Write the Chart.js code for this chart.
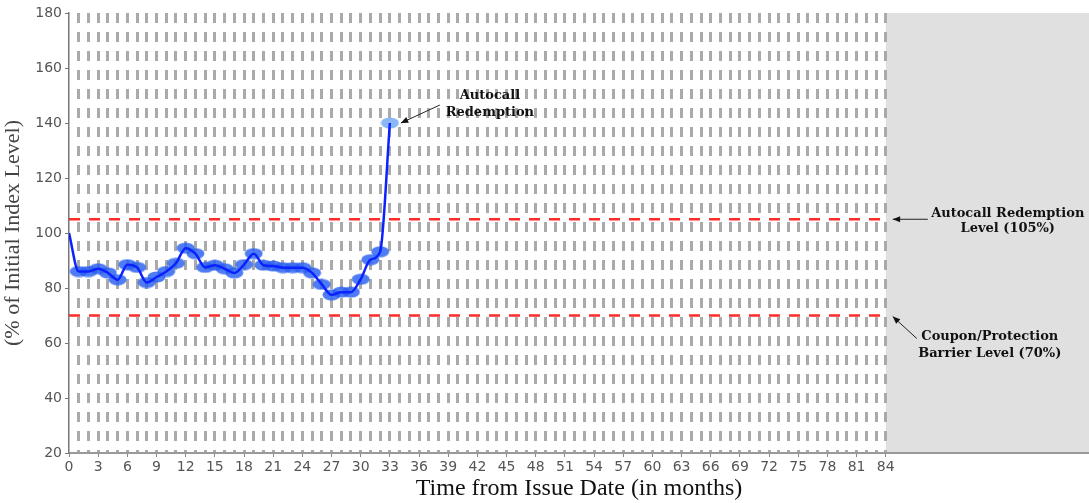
<!DOCTYPE html>
<html>
<head>
<meta charset="utf-8">
<script src="https://cdn.jsdelivr.net/npm/chart.js@4/dist/chart.umd.min.js"></script>
<style>
  body { margin: 0; background: #fff; }
  #wrap { width: 1089px; height: 503px; }
</style>
</head>
<body>
<div id="wrap"><canvas id="myChart" width="1089" height="503"></canvas></div>
<script>
// months since issue and index level (% of initial)
const months = [0, 1, 2, 3, 4, 5, 6, 7, 8, 9, 10, 11, 12, 13, 14, 15, 16,
  17, 18, 19, 20, 21, 22, 23, 24, 25, 26, 27, 28, 29, 30, 31, 32, 33];
const indexLevel = [100, 86, 86, 87, 85.5, 83, 88.5, 87.5, 82, 84, 86, 89, 94.5, 92.5, 87.5, 88.3, 87,
  85.5, 88.5, 92.5, 88.3, 88, 87.4, 87.4, 87.4, 85.5, 81.3, 77.5, 78.5, 78.5, 83.2, 90.3, 93.2, 140];

const levelMonths = [0, 84];
const autocallLevel = 105;
const barrierLevel = 70;

const lastMonth = 84;   // product term
const axisEnd = 104.9;

// ellipse markers
function ellipse(color) {
  const c = document.createElement('canvas');
  c.width = 19; c.height = 12;
  const g = c.getContext('2d');
  g.fillStyle = color;
  g.beginPath();
  g.ellipse(9.5, 6, 9, 5.5, 0, 0, Math.PI * 2);
  g.fill();
  return c;
}
const dotBlue = ellipse('rgba(40, 95, 240, 0.82)');
const dotLight = ellipse('rgba(120, 170, 245, 0.85)');

const levelLine = (y) => levelMonths.map(m => ({ x: m, y: y }));
const markers = months.map((m, i) => ({ x: m, y: i === 0 ? null : indexLevel[i] }));

const shadePlugin = {
  id: 'shade',
  beforeDraw(chart) {
    const { ctx, chartArea, scales } = chart;
    const x0 = scales.x.getPixelForValue(lastMonth);
    ctx.save();
    ctx.fillStyle = '#e0e0e0';
    ctx.fillRect(x0, chartArea.top, chartArea.right - x0, chartArea.bottom - chartArea.top);
    ctx.restore();
  }
};

function arrow(ctx, x1, y1, x2, y2) {
  const a = Math.atan2(y2 - y1, x2 - x1);
  ctx.beginPath();
  ctx.moveTo(x1, y1);
  ctx.lineTo(x2, y2);
  ctx.stroke();
  ctx.beginPath();
  ctx.moveTo(x2, y2);
  ctx.lineTo(x2 - 8 * Math.cos(a - 0.4), y2 - 8 * Math.sin(a - 0.4));
  ctx.lineTo(x2 - 8 * Math.cos(a + 0.4), y2 - 8 * Math.sin(a + 0.4));
  ctx.closePath();
  ctx.fill();
}

const notesPlugin = {
  id: 'notes',
  afterDraw(chart) {
    const { ctx, scales } = chart;
    const x = scales.x, y = scales.y;
    ctx.save();
    ctx.strokeStyle = '#222';
    ctx.fillStyle = '#111';
    ctx.lineWidth = 1;
    ctx.font = 'bold 13px "DejaVu Serif"';
    ctx.textAlign = 'center';
    ctx.textBaseline = 'middle';

    const px = x.getPixelForValue(33), py = y.getPixelForValue(140);
    arrow(ctx, px + 50, py - 18, px + 11, py);
    ctx.fillText('Autocall', px + 100, py - 27);
    ctx.fillText('Redemption', px + 100, py - 10);

    const ex = x.getPixelForValue(lastMonth);
    const ay = y.getPixelForValue(autocallLevel);
    arrow(ctx, ex + 42, ay, ex + 7, ay);
    ctx.fillText('Autocall Redemption', ex + 122, ay - 6);
    ctx.fillText('Level (105%)', ex + 122, ay + 9);

    const by = y.getPixelForValue(barrierLevel);
    arrow(ctx, ex + 31, by + 23, ex + 7, by + 1);
    ctx.fillText('Coupon/Protection', ex + 104, by + 21);
    ctx.fillText('Barrier Level (70%)', ex + 104, by + 38);
    ctx.restore();
  }
};

const ctx = document.getElementById('myChart').getContext('2d');
const myChart = new Chart(ctx, {
  type: 'line',
  data: {
    datasets: [
      {
        data: months.map((m, i) => ({ x: m, y: indexLevel[i] })),
        borderColor: '#0b22ff',
        borderWidth: 2.5,
        pointRadius: 0,
        cubicInterpolationMode: 'monotone',
        order: 0
      },
      {
        data: markers,
        showLine: false,
        pointStyle: months.map(m => m === 33 ? dotLight : dotBlue),
        pointRadius: 6,
        order: 1
      },
      {
        data: levelLine(autocallLevel),
        borderColor: '#ff2b2b',
        borderWidth: 2.5,
        borderDash: [11, 9],
        pointRadius: 0,
        order: 2
      },
      {
        data: levelLine(barrierLevel),
        borderColor: '#ff2b2b',
        borderWidth: 2.5,
        borderDash: [11, 9],
        pointRadius: 0,
        order: 2
      }
    ]
  },
  options: {
    responsive: false,
    animation: false,
    devicePixelRatio: 1,
    layout: { autoPadding: false, padding: { top: 13, right: 0, left: 0, bottom: 0 } },
    plugins: {
      legend: { display: false },
      tooltip: { enabled: false }
    },
    scales: {
      x: {
        type: 'linear',
        min: 0,
        max: axisEnd,
        afterBuildTicks(scale) {
          const t = [];
          for (let m = 0; m <= lastMonth; m++) t.push({ value: m });
          scale.ticks = t;
        },
        afterFit(scale) { scale.height = 50; },
        ticks: {
          autoSkip: false,
          maxRotation: 0,
          padding: 2,
          color: '#555',
          font: { family: 'DejaVu Sans', size: 14 },
          callback: (v) => v % 3 === 0 ? v : ''
        },
        grid: {
          color: (c) => (c.tick && c.tick.value > 0) ? '#aaaaaa' : 'rgba(0,0,0,0)',
          lineWidth: 3,
          tickColor: (c) => (c.tick && c.tick.value % 3 === 0) ? '#888' : 'rgba(0,0,0,0)',
          tickWidth: 1,
          tickLength: 4
        },
        border: { color: '#999', width: 2, dash: [10, 9] },
        title: {
          display: true,
          text: 'Time from Issue Date (in months)',
          color: '#111',
          font: { family: 'Liberation Serif', size: 24 },
          padding: { top: 3, bottom: 0 }
        }
      },
      y: {
        min: 20,
        max: 180,
        afterFit(scale) { scale.width = 69; },
        ticks: {
          stepSize: 20,
          padding: 3,
          color: '#555',
          font: { family: 'DejaVu Sans', size: 14 }
        },
        grid: {
          drawOnChartArea: false,
          color: '#777',
          tickLength: 4
        },
        border: { color: '#777', width: 1.5 },
        title: {
          display: true,
          text: '(% of Initial Index Level)',
          color: '#444',
          font: { family: 'Liberation Serif', size: 22 },
          padding: { top: 0, bottom: 0 }
        }
      }
    }
  },
  plugins: [shadePlugin, notesPlugin]
});
</script>
</body>
</html>
